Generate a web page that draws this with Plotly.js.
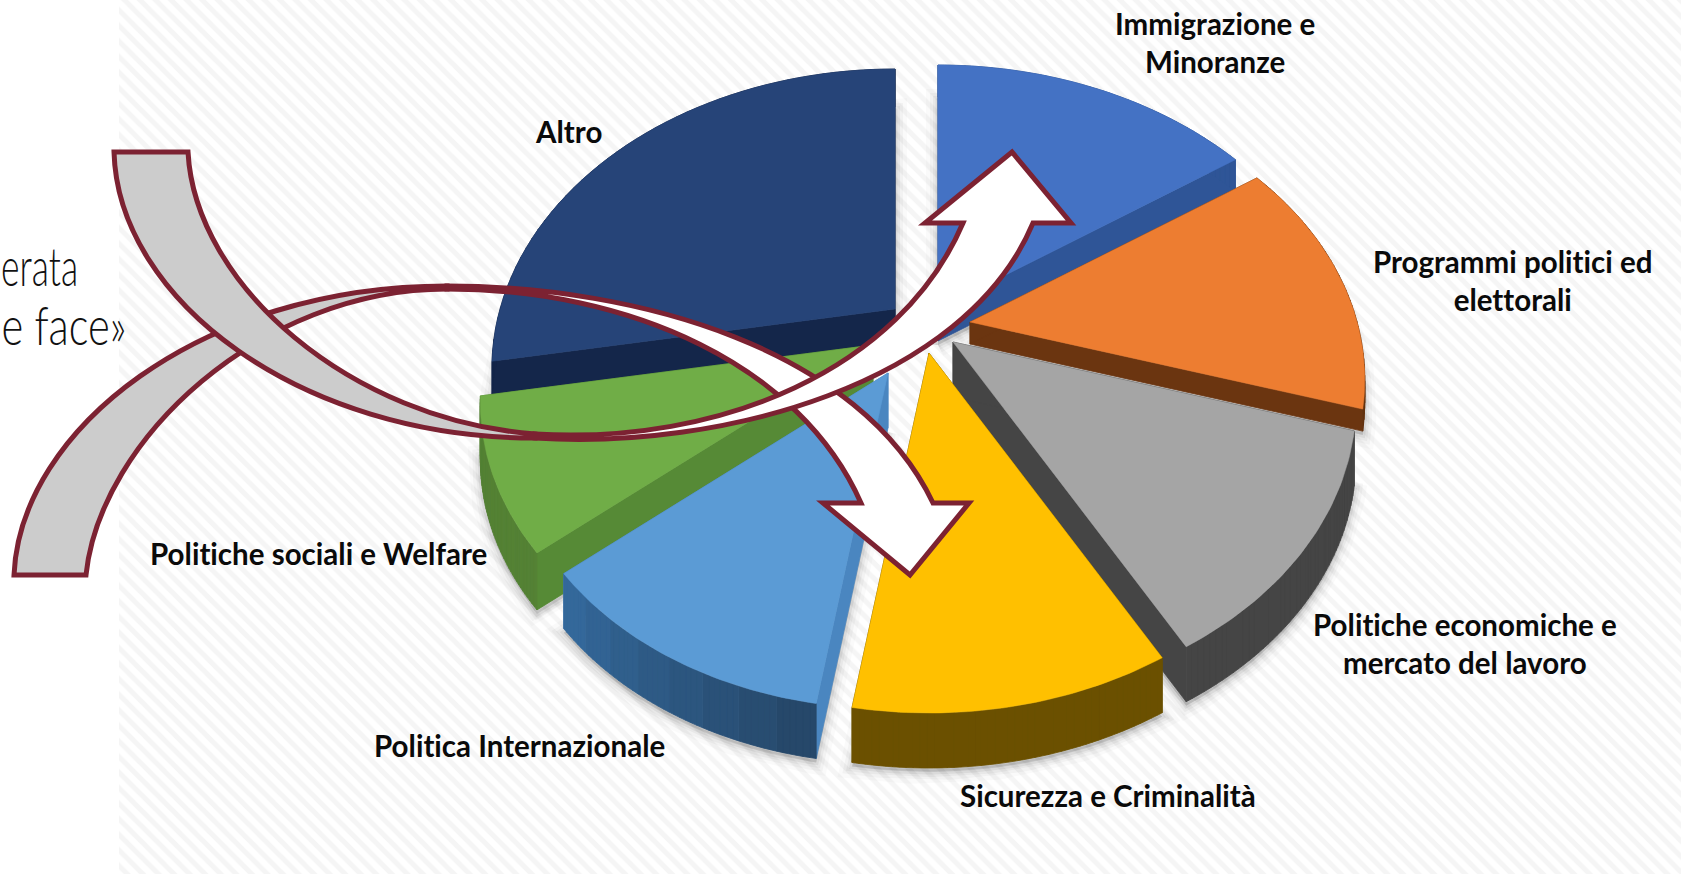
<!DOCTYPE html>
<html><head><meta charset="utf-8">
<script src="https://cdn.plot.ly/plotly-3.0.1.min.js"></script>
<style>html,body{margin:0;padding:0;background:#fff;overflow:hidden}#c{width:1681px;height:874px}
.annotation-text{font-variant-ligatures:none;font-feature-settings:"liga" 0,"clig" 0;letter-spacing:0.01px}</style>
</head><body><div id="c"></div>
<script>
// ---- data (clockwise from 12 o'clock) ----
const categories = ["Immigrazione e<br>Minoranze","Programmi politici ed<br>elettorali","Politiche economiche e<br>mercato del lavoro","Sicurezza e Criminalità","Politica Internazionale","Politiche sociali e Welfare","Altro"];
const shares = [15.4,14.3,12.2,10.6,11.3,8.4,27.8];

// ---- styling ----
const topColors  = ["#4472c4","#ed7d31","#a5a5a5","#ffc000","#5b9bd5","#70ad47","#264478"];
const arcColors  = ["#2f5597","#63320f","#454545","#6b5000",null,"#548235","#14264a"];
const cutColors  = ["#2f5597","#6b3510","#454545","#6b5000","#4a86c0","#568a36","#14264a"];
const apexX = [938,970,953,929,888,873,895];
const apexY = [309,322,342,353,373,345,309];
const radius = [1.02,0.98,1,1,0.945,0.975,1];
const depth = [32,22,55,55,55,57,38];
const paintOrder = [6,0,1,2,5,4,3];
const labelX = [1215,1512,1465,1108,519,318,568];
const labelY = [42,280,643,795,745,553,131];
const Rx=395, Ry=288, persp=0.2;

function project(th,s){const X=s*Math.sin(th),Y=-s*Math.cos(th),w=1-persp*Y;return [Rx*X/w,Ry*Y/w];}
const total=shares.reduce((a,b)=>a+b,0);
let cum=0; const slices=shares.map((v,i)=>{
  const a0=cum/total*2*Math.PI; cum+=v; const a1=cum/total*2*Math.PI;
  const arc=[]; const n=48;
  for(let k=0;k<=n;k++){const p=project(a0+(a1-a0)*k/n,radius[i]);arc.push([apexX[i]+p[0],apexY[i]+p[1]]);}
  return {apex:[apexX[i],apexY[i]],arc};
});
function quadsTrace(quads,color){
  const x=[],y=[];
  quads.forEach(q=>{
    let a=0;q.forEach((p,i)=>{const r=q[(i+1)%q.length];a+=p[0]*r[1]-r[0]*p[1];});
    const o=a<0?q.slice().reverse():q;
    o.forEach(p=>{x.push(p[0]);y.push(p[1]);});x.push(o[0][0]);y.push(o[0][1]);x.push(null);y.push(null);
  });
  return {type:'scatter',mode:'lines',x,y,fill:'toself',fillcolor:color,line:{color:color,width:0.8},hoverinfo:'skip',showlegend:false};
}
const traces=[];
// hatched backdrop
traces.push({type:'scatter',mode:'none',x:[119,1681,1681,119,119],y:[0,0,874,874,0],fill:'toself',
  fillpattern:{shape:'\\',size:11,solidity:0.45,fgcolor:'#f5f5f5',bgcolor:'#ffffff'},fillcolor:'#ffffff',hoverinfo:'skip',showlegend:false});
// soft shadows
[[24,0.02],[16,0.03],[10,0.04],[5,0.06]].forEach(([w,al])=>{
  paintOrder.forEach(i=>{
    const s=slices[i],d=depth[i]+4;
    const pts=[s.apex].concat(s.arc).map(p=>[p[0],p[1]+d]);
    const all=pts.concat([pts[0]]);
    traces.push({type:'scatter',mode:'lines',x:all.map(p=>p[0]),y:all.map(p=>p[1]),fill:'toself',
      fillcolor:'rgba(0,0,0,'+al+')',line:{color:'rgba(0,0,0,'+al+')',width:w},hoverinfo:'skip',showlegend:false});
  });
});
// slices
function mix(a,b,t){return 'rgb('+a.map((v,i)=>Math.round(v+(b[i]-v)*t)).join(',')+')';}
paintOrder.forEach(i=>{
  const s=slices[i],d=depth[i];
  const A=s.arc,ap=s.apex,dn=p=>[p[0],p[1]+d];
  traces.push(quadsTrace([[ap,A[0],dn(A[0]),dn(ap)],[ap,A[A.length-1],dn(A[A.length-1]),dn(ap)]],cutColors[i]));
  const aq=[];for(let k=0;k<A.length-1;k++)aq.push([A[k],A[k+1],dn(A[k+1]),dn(A[k])]);
  if(arcColors[i]) traces.push(quadsTrace(aq,arcColors[i]));
  else { // shaded outer wall
    const bands=8,step=Math.ceil(aq.length/bands);
    for(let b=0;b<bands;b++) traces.push(quadsTrace(aq.slice(b*step,(b+1)*step),mix([38,72,106],[52,104,154],b/(bands-1))));
  }
  const top=[ap].concat(A).concat([ap]);
  traces.push({type:'scatter',mode:'lines',name:categories[i].replace('<br>',' '),x:top.map(p=>p[0]),y:top.map(p=>p[1]),
    fill:'toself',fillcolor:topColors[i],line:{color:topColors[i],width:0.5},hoverinfo:'name',showlegend:false});
});

// ---- curved arrows (decoration drawn as shapes) ----
const stroke={color:'#7c2232',width:5};
const shp=(path,fill)=>({type:'path',xref:'x',yref:'y',path,fillcolor:fill,line:stroke,layer:'above'});
const shapes=[
 shp('M14,575 C20,430 200,286 447,286 L447,289 C260,289 100,440 86,575 Z','#cccccc'),
 shp('M447,286 C640,286 860,350 933,503 L969,503 L910,575 L823,503 L861,503 C800,365 630,289 447,289 Z','#ffffff'),
 shp('M114,152 C118,300 300,438 535,438 L535,434 C350,420 195,285 188,152 Z','#cccccc'),
 shp('M535,434 C720,445 900,370 963,223 L925,223 L1012,152 L1071,223 L1033,223 C965,385 720,450 535,438 Z','#ffffff')
];

const annotations=categories.map((t,i)=>({x:labelX[i],y:labelY[i],xref:'x',yref:'y',text:'<b>'+t+'</b>',showarrow:false,
  xanchor:'center',yanchor:'middle',align:'center',font:{family:'Lato, sans-serif',size:29.5,color:'#0a0a0a'}}));
const sideFont={family:'Lato, sans-serif',size:54,weight:300,color:'#111'};
annotations.push({x:39,y:265,xref:'x',yref:'y',text:'erata',showarrow:false,xanchor:'center',yanchor:'middle',font:sideFont});
annotations.push({x:64,y:324,xref:'x',yref:'y',text:'e face»',showarrow:false,xanchor:'center',yanchor:'middle',font:sideFont});

Plotly.newPlot('c',traces,{
  width:1681,height:874,margin:{l:0,r:0,t:0,b:0,pad:0},paper_bgcolor:'#fff',plot_bgcolor:'#fff',showlegend:false,
  xaxis:{range:[0,1681],visible:false,fixedrange:true},
  yaxis:{range:[874,0],visible:false,fixedrange:true},
  shapes,annotations
},{displayModeBar:false,staticPlot:true}).then(gd=>{
  // the two side lines are set in a condensed cut
  const widths={'erata':77,'e face»':125};
  gd.querySelectorAll('.annotation-text').forEach(t=>{
    const w=widths[t.textContent];
    if(w){t.setAttribute('textLength',w);t.setAttribute('lengthAdjust','spacingAndGlyphs');}
  });
});
</script></body></html>
